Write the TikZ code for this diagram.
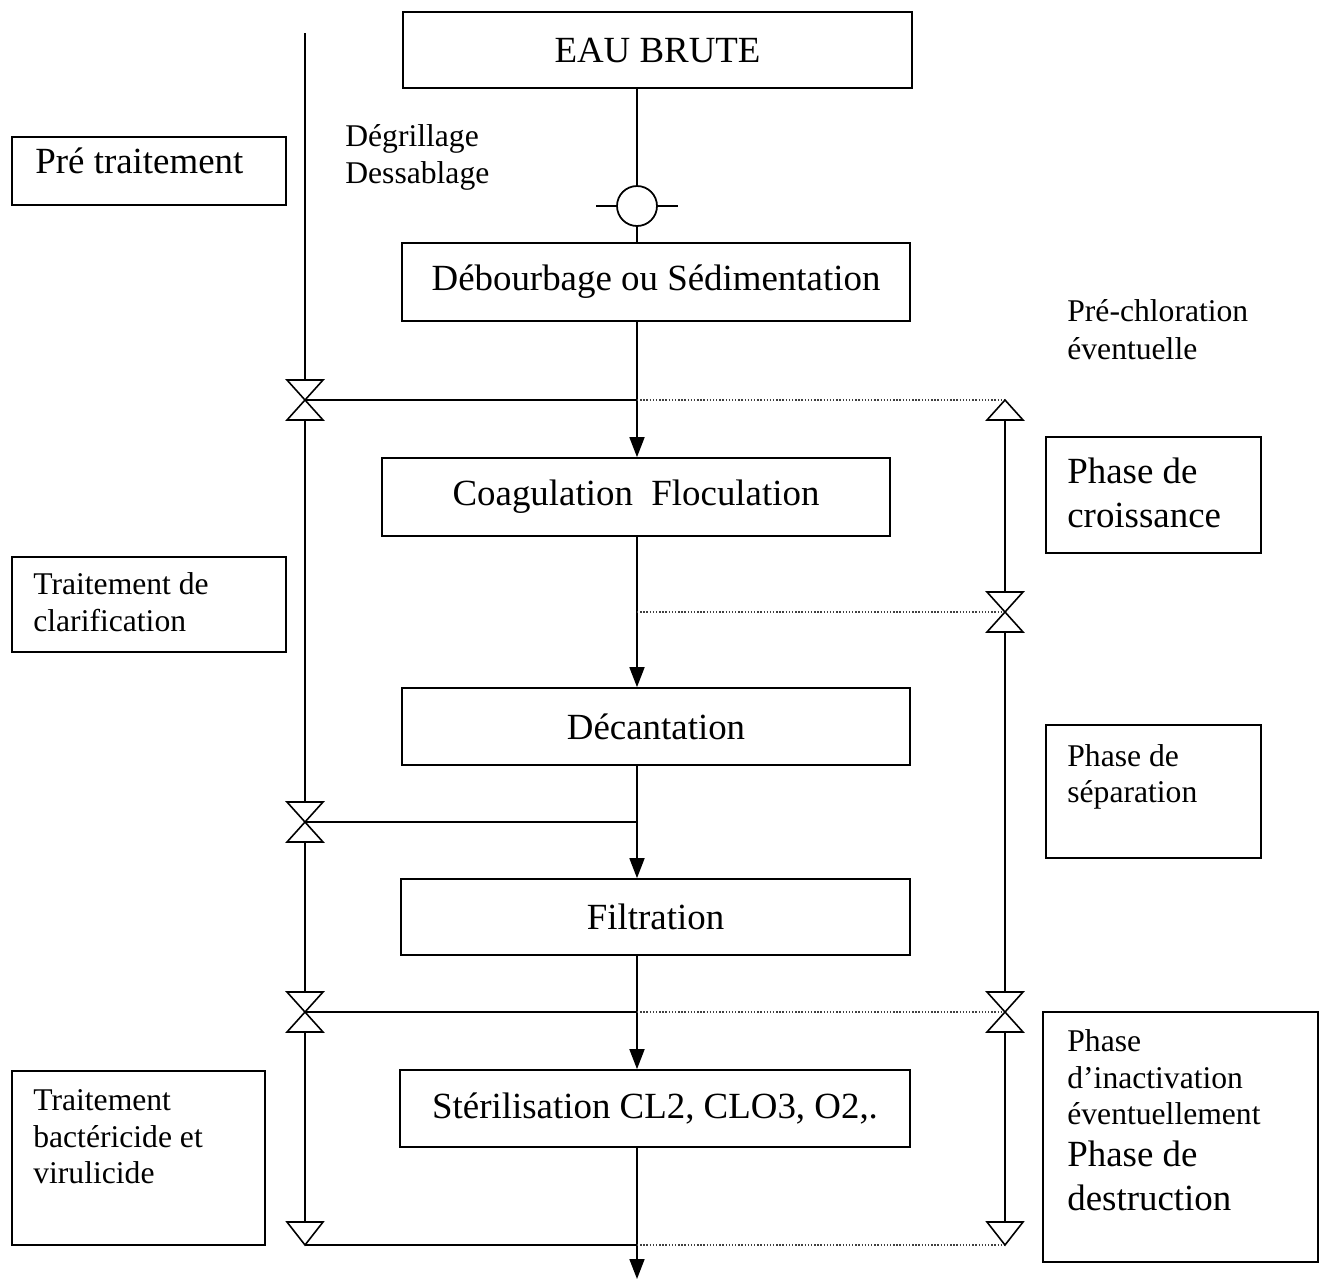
\documentclass[tikz,border=0pt]{standalone}
\usepackage{fontspec}
\setmainfont{Liberation Serif}
\usetikzlibrary{positioning,arrows.meta,calc}

\newcommand{\grandf}{\fontsize{21}{24.5}\selectfont}
\newcommand{\petitf}{\fontsize{18}{20.5}\selectfont}

\tikzset{
  etape/.style={rectangle, draw, line width=1pt, font=\grandf, inner sep=0pt},
  cadre/.style={rectangle, draw, line width=1pt, inner sep=0pt},
  texte/.style={anchor=base west, align=left, inner sep=0pt},
  flux/.style={line width=1pt, -{Triangle[length=0.4cm,width=0.3cm]}},
  trait/.style={line width=1pt},
  pointille/.style={line width=0.8pt, densely dotted, black!75},
  vanne/.pic={\draw[line width=0.9pt, fill=white] (-0.36cm,-0.4cm) -- (0.36cm,-0.4cm) -- (-0.36cm,0.4cm) -- (0.36cm,0.4cm) -- cycle;},
  trhaut/.pic={\draw[line width=0.9pt, fill=white] (0,0) -- (-0.36cm,-0.4cm) -- (0.36cm,-0.4cm) -- cycle;},
  trbas/.pic={\draw[line width=0.9pt, fill=white] (0,0) -- (-0.36cm,0.46cm) -- (0.36cm,0.46cm) -- cycle;},
}

\begin{document}
\begin{tikzpicture}[x=0.02cm, y=-0.02cm]
  \useasboundingbox (0,0) rectangle (1325,1279);

  % axes
  \coordinate (axe) at (637,0);
  \coordinate (gauche) at (305,0);
  \coordinate (droite) at (1005,0);

  % etapes principales
  \node[etape, minimum width=10.18cm, minimum height=1.52cm] (eau) at (657.5,50) {EAU BRUTE};
  \node[circle, draw, line width=1pt, minimum size=0.8cm, inner sep=0pt] (grille) at (637,206) {};
  \node[etape, minimum width=10.16cm, minimum height=1.56cm] (deb) at (656,282) {Débourbage ou Sédimentation};
  \node[etape, minimum width=10.16cm, minimum height=1.56cm] (coag) at (636,497) {Coagulation~ Floculation};
  \node[etape, minimum width=10.16cm, minimum height=1.54cm] (decant) at (656,726.5) {Décantation};
  \node[etape, minimum width=10.18cm, minimum height=1.52cm] (filtr) at (655.5,917) {Filtration};
  \node[etape, minimum width=10.2cm, minimum height=1.54cm] (ster) at (655,1108.5) {Stérilisation CL2, CLO3, O2,.};
  \coordinate (sortie) at (637,1279);

  % cadres lateraux
  \node[cadre, minimum width=5.48cm, minimum height=1.36cm] (pretrait) at (149,171) {};
  \node[cadre, minimum width=5.48cm, minimum height=1.9cm] (clarif) at (149,604.5) {};
  \node[cadre, minimum width=5.06cm, minimum height=3.48cm] (bacter) at (138.5,1158) {};
  \node[cadre, minimum width=4.3cm, minimum height=2.32cm] (croiss) at (1153.5,495) {};
  \node[cadre, minimum width=4.3cm, minimum height=2.66cm] (separ) at (1153.5,791.5) {};
  \node[cadre, minimum width=5.5cm, minimum height=5cm] (inactiv) at (1180.5,1137) {};

  % textes
  \node[texte, font=\grandf] (tpretrait) at (35,173) {Pré traitement};
  \node[texte, font=\petitf] (degr) at (345,183) {Dégrillage\\Dessablage};
  \node[texte, font=\petitf] (prechl) at (1067,359) {Pré-chloration\\[1pt]éventuelle};
  \node[texte, font=\petitf] (tclarif) at (33,631) {Traitement de\\clarification};
  \node[texte, font=\petitf] (tbacter) at (33,1183) {Traitement\\bactéricide et\\virulicide};
  \node[texte, font=\grandf] (tcroiss) at (1067,527) {Phase de\\croissance};
  \node[texte, font=\petitf] (tsepar) at (1067,802) {Phase de\\séparation};
  \node[texte, font=\petitf] (tinact) at (1067,1124) {Phase\\d’inactivation\\éventuellement};
  \node[texte, font=\grandf] (tdestr) at (1067,1210) {Phase de\\destruction};

  % ligne principale
  \draw[trait] (eau.south -| axe) -- (grille.north);
  \draw[trait] (grille.south) -- (deb.north -| axe);
  \draw[trait] (grille.west) -- ++(-20,0);
  \draw[trait] (grille.east) -- ++(20,0);
  \draw[flux] (deb.south -| axe) -- (coag.north -| axe);
  \draw[flux] (coag.south -| axe) -- (decant.north -| axe);
  \draw[flux] (decant.south -| axe) -- (filtr.north -| axe);
  \draw[flux] (filtr.south -| axe) -- (ster.north -| axe);
  \draw[flux] (ster.south -| axe) -- (sortie);

  % lignes des phases
  \coordinate (g0) at (305,33);
  \coordinate (gbas) at (305,1245);
  \coordinate (d0) at (1005,400);
  \coordinate (dbas) at (1005,1245);
  \draw[trait] (g0) -- (gbas);
  \draw[trait] (d0) -- (dbas);

  \foreach \y in {400,822,1012,1245}
    \draw[trait] (gauche |- 0,\y) -- (axe |- 0,\y);
  \foreach \y in {400,612,1012,1245}
    \draw[pointille] (axe |- 0,\y) -- (droite |- 0,\y);

  % vannes et triangles
  \foreach \x/\y in {305/400, 305/822, 305/1012, 1005/612, 1005/1012}
    \pic at (\x,\y) {vanne};
  \pic at (d0) {trhaut};
  \pic at (gbas) {trbas};
  \pic at (dbas) {trbas};
\end{tikzpicture}
\end{document}
